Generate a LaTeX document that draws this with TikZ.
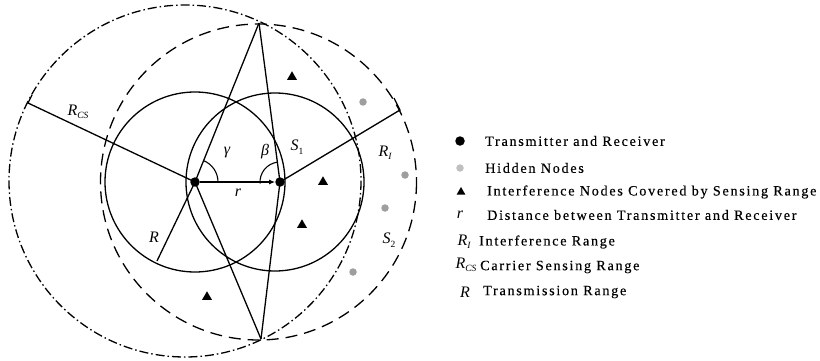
\documentclass[tikz,border=0pt]{standalone}
\usepackage{fontspec}
\setmainfont{Liberation Serif}
\newfontfamily\legfont[LetterSpace=12,FakeBold=0.3]{Liberation Serif}
\usetikzlibrary{shapes.geometric,arrows.meta}
\newcommand{\mysub}[1]{\raisebox{-3.5pt}{\fontsize{9.5}{11}\selectfont #1}}
\begin{document}
\begin{tikzpicture}[x=1pt,y=-1pt,
  dev/.style={circle,fill=black,inner sep=0pt,minimum size=9.5pt},
  hid/.style={circle,fill=black!38,inner sep=0pt,minimum size=7.5pt},
  intf/.style={regular polygon,regular polygon sides=3,fill=black,inner sep=0pt,minimum size=11.5pt},
  lbl/.style={font=\fontsize{16}{18}\selectfont\itshape,inner sep=0pt},
  leg/.style={font=\fontsize{14.2}{17}\legfont,anchor=west,inner sep=0pt},
  ln/.style={line width=1.3pt},
]
\useasboundingbox (0,0) rectangle (820,361);
% centres and points
\coordinate (C1) at (195,182);
\coordinate (C2) at (275,182);
\coordinate (CI) at (258.5,182);
\coordinate (CCS) at (185,181);
\coordinate (A) at (259,23);
\coordinate (B) at (261,339);
\coordinate (Rend) at (157,261);
\coordinate (CSend) at (28,103);
\coordinate (CStick) at (32,95);
\coordinate (Iend) at (400,110);
\coordinate (Itick) at (394,98);
% circles
\draw[ln] (C1) circle[radius=90];
\draw[ln] (C2) circle[radius=89];
\draw[ln, dash pattern=on 12pt off 7pt] (CI) circle[radius=158];
\draw[ln, dash pattern=on 9pt off 3pt on 1.5pt off 3pt] (CCS) circle[radius=176];
% devices
\node[dev] (T) at (195,182) {};
\node[dev] (Rx) at (280,182) {};
% lines
\draw[ln] (A) -- (T.center) -- (Rend);
\draw[ln] (A) -- (Rx.center) -- (B);
\draw[ln] (T.center) -- (B);
\draw[ln] (T.center) -- (CSend) -- (CStick);
\draw[ln] (Rx.center) -- (Iend) -- (Itick);
\draw[line width=1.1pt,-{Latex[length=6pt,width=5pt]}] (T) -- (Rx);
% angles
\draw[line width=1.1pt] ([shift={(23,0)}]T.center) arc[start angle=0,end angle=-68,radius=23];
\draw[line width=1.1pt] ([shift={(-98:20)}]Rx.center) arc[start angle=-98,end angle=-185,radius=20];
% labels
\node[lbl] (lRcs) at (78,112) {R\mysub{CS}};
\node[lbl] (lRI) at (385,153) {R\mysub{I}};
\node[lbl] (lS1) at (297,147) {S\mysub{\upshape 1}};
\node[lbl] (lS2) at (389,240) {S\mysub{\upshape 2}};
\node[lbl] (lg) at (227,153) {γ};
\node[lbl] (lb) at (265,152) {β};
\node[lbl] (lr) at (238,193) {r};
\node[lbl] (lR) at (154,237) {R};
% interference nodes
\node[intf] (i1) at (292,77) {};
\node[intf] (i2) at (323,182) {};
\node[intf] (i3) at (302,225) {};
\node[intf] (i4) at (207,297) {};
% hidden nodes
\node[hid] (h1) at (363,102) {};
\node[hid] (h2) at (405,175) {};
\node[hid] (h3) at (385,208) {};
\node[hid] (h4) at (353,272) {};
% legend
\node[dev] (k1) at (460,141) {};
\node[hid,fill=black!25] (k2) at (460,168) {};
\node[intf,minimum size=10pt] (k3) at (461,192) {};
\node[lbl] (k4) at (460,215) {r};
\node[lbl] (k5) at (464,242) {R\mysub{I}};
\node[lbl] (k6) at (466,265) {R\mysub{CS}};
\node[lbl] (k7) at (465,292) {R};
\node[leg] (t1) at (485,141) {Transmitter and Receiver};
\node[leg] (t2) at (485,168) {Hidden Nodes};
\node[leg] (t3) at (487,192) {Interference Nodes Covered by Sensing Range};
\node[leg] (t4) at (487,215) {Distance between Transmitter and Receiver};
\node[leg] (t5) at (479,242) {Interference Range};
\node[leg] (t6) at (480,267) {Carrier Sensing Range};
\node[leg] (t7) at (483,292) {Transmission Range};
\end{tikzpicture}
\end{document}
